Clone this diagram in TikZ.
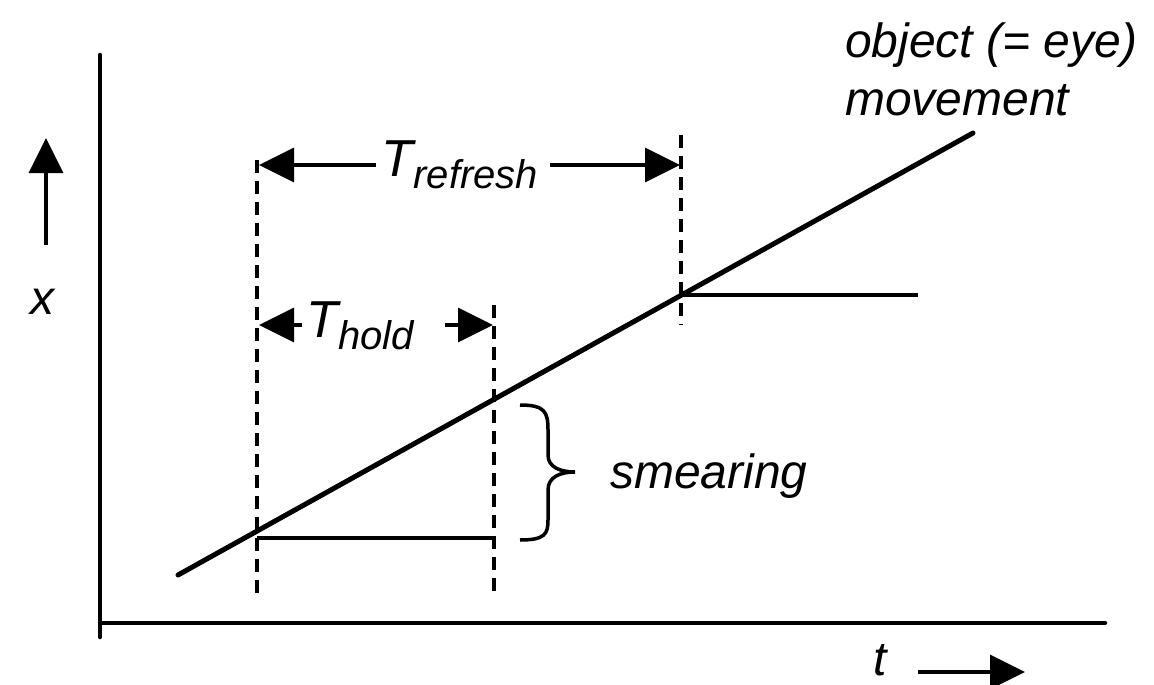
\documentclass[tikz,border=0pt]{standalone}
\usepackage{fontspec}
\setmainfont{Liberation Sans}
\usetikzlibrary{arrows.meta}
\tikzset{
  axisline/.style={line width=4.5pt, line cap=round},
  graphline/.style={line width=5pt, line cap=round},
  holdline/.style={line width=4pt},
  dashline/.style={line width=3.5pt, dash pattern=on 13pt off 8pt},
  bigarrow/.style={line width=3.5pt, -{Triangle[length=35pt,width=34pt]}},
  lbl/.style={font=\fontsize{48}{56}\selectfont\itshape, inner sep=0pt},
}
\begin{document}
\begin{tikzpicture}[x=1pt,y=-1pt]
\useasboundingbox (0,0) rectangle (1154,685);
% axes
\coordinate (ytop) at (100,55);
\coordinate (ybot) at (100,637);
\coordinate (xl) at (100,623);
\coordinate (xr) at (1105,623);
\draw[axisline] (ytop) -- (ybot);
\draw[axisline] (xl) -- (xr);
% x-axis label arrow
\coordinate (uptail) at (46,245);
\coordinate (uptip) at (46,138);
\draw[bigarrow] (uptail) -- (uptip);
\node[lbl] (xlab) at (42,302) {x};
% t label
\node[lbl] (tlab) at (880,660) {t};
\coordinate (ttail) at (918,672);
\coordinate (ttip) at (1025,672);
\draw[bigarrow] (ttail) -- (ttip);
% dashed lines
\coordinate (d1t) at (257,160); \coordinate (d1b) at (257,595);
\coordinate (d2t) at (494,305); \coordinate (d2b) at (494,595);
\coordinate (d3t) at (681,135); \coordinate (d3b) at (681,325);
\draw[dashline] (d1t) -- (d1b);
\draw[dashline] (d2t) -- (d2b);
\draw[dashline] (d3t) -- (d3b);
% movement line
\coordinate (ms) at (178,575);
\coordinate (me) at (973,133);
\draw[graphline] (ms) -- (me);
% hold lines
\coordinate (h1s) at (257,538); \coordinate (h1e) at (494,538);
\coordinate (h2s) at (681,295); \coordinate (h2e) at (918,295);
\draw[holdline] (h1s) -- (h1e);
\draw[holdline] (h2s) -- (h2e);
% T refresh
\node[inner sep=0pt] (tref) at (460,165) {\fontsize{52}{60}\selectfont\itshape T\raisebox{-12pt}{\fontsize{40}{46}\selectfont refresh}};
\coordinate (rl) at (259,165);
\coordinate (rr) at (680,165);
\draw[bigarrow] (376,165) -- (rl);
\draw[bigarrow] (550,165) -- (rr);
% T hold
\node[inner sep=0pt] (thold) at (360,326) {\fontsize{52}{60}\selectfont\itshape T\raisebox{-12pt}{\fontsize{40}{46}\selectfont hold}};
\coordinate (hl) at (259,325);
\coordinate (hr) at (493,325);
\draw[bigarrow] (302,325) -- (hl);
\draw[bigarrow] (445,325) -- (hr);
% brace
\draw[line width=3.5pt] (520,405) .. controls (545,405) and (548,412) .. (548,430) -- (548,455)
  .. controls (548,467) and (560,472) .. (575,472)
  .. controls (560,472) and (548,477) .. (548,490) -- (548,520)
  .. controls (548,534) and (545,540) .. (520,540);
\node[lbl, anchor=west] (smear) at (610,476) {smearing};
% object label
\node[lbl, anchor=west] (obj1) at (845,45) {object (= eye)};
\node[lbl, anchor=west] (obj2) at (845,100) {movement};
\end{tikzpicture}
\end{document}
